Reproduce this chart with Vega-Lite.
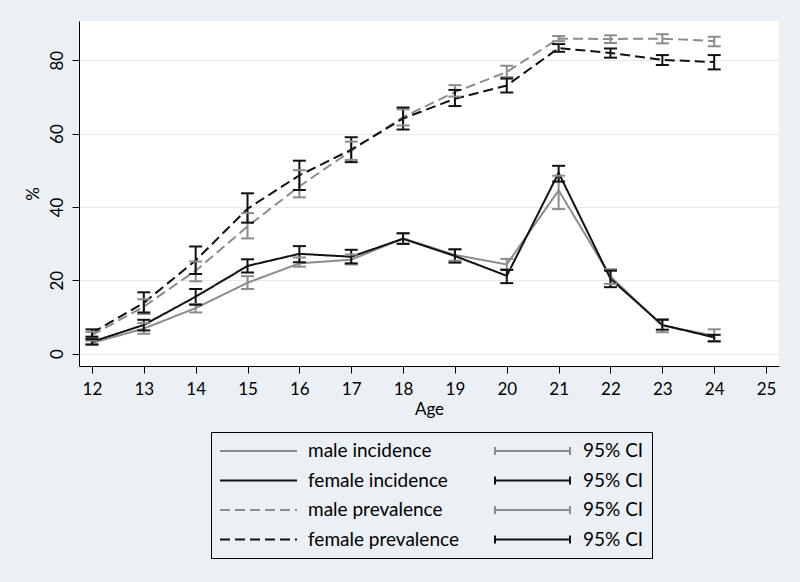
{
  "$schema": "https://vega.github.io/schema/vega-lite/v6.json",
  "width": 700,
  "height": 345,
  "autosize": "none",
  "padding": {"left": 79, "top": 21, "right": 21, "bottom": 216},
  "background": "#eaf0f3",
  "config": {
    "view": {"fill": "white", "stroke": null},
    "font": "Lato",
    "axis": {
      "domainColor": "black",
      "tickColor": "black",
      "labelColor": "black",
      "titleColor": "black",
      "labelFont": "Lato",
      "titleFont": "Lato",
      "labelFontSize": 17,
      "titleFontSize": 17,
      "titleFontWeight": "normal",
      "tickSize": 7,
      "domainWidth": 1,
      "tickWidth": 1
    }
  },
  "data": {
    "values": [
      {"age": 12, "series": "male incidence", "value": 2.9, "lo": 2.3, "hi": 3.5},
      {"age": 13, "series": "male incidence", "value": 6.8, "lo": 5.4, "hi": 8.3},
      {"age": 14, "series": "male incidence", "value": 12.4, "lo": 11.2, "hi": 13.5},
      {"age": 15, "series": "male incidence", "value": 19.3, "lo": 17.6, "hi": 21.1},
      {"age": 16, "series": "male incidence", "value": 24.6, "lo": 23.7, "hi": 26.2},
      {"age": 17, "series": "male incidence", "value": 25.6, "lo": 24.3, "hi": 27.0},
      {"age": 18, "series": "male incidence", "value": 31.4, "lo": 30.0, "hi": 32.8},
      {"age": 19, "series": "male incidence", "value": 26.9, "lo": 25.3, "hi": 28.5},
      {"age": 20, "series": "male incidence", "value": 24.3, "lo": 23.0, "hi": 25.8},
      {"age": 21, "series": "male incidence", "value": 44.5, "lo": 39.4, "hi": 48.5},
      {"age": 22, "series": "male incidence", "value": 21.0, "lo": 19.0, "hi": 23.0},
      {"age": 23, "series": "male incidence", "value": 7.6, "lo": 5.8, "hi": 9.4},
      {"age": 24, "series": "male incidence", "value": 4.9, "lo": 3.4, "hi": 6.6},
      {"age": 12, "series": "male prevalence", "value": 5.0, "lo": 4.2, "hi": 5.9},
      {"age": 13, "series": "male prevalence", "value": 12.8, "lo": 10.8, "hi": 14.8},
      {"age": 14, "series": "male prevalence", "value": 22.6, "lo": 19.7, "hi": 25.1},
      {"age": 15, "series": "male prevalence", "value": 34.7, "lo": 31.4, "hi": 38.3},
      {"age": 16, "series": "male prevalence", "value": 45.6, "lo": 42.6, "hi": 50.0},
      {"age": 17, "series": "male prevalence", "value": 55.3, "lo": 52.8, "hi": 57.8},
      {"age": 18, "series": "male prevalence", "value": 64.5, "lo": 62.2, "hi": 66.6},
      {"age": 19, "series": "male prevalence", "value": 71.3, "lo": 70.1, "hi": 73.2},
      {"age": 20, "series": "male prevalence", "value": 76.8, "lo": 75.4, "hi": 78.5},
      {"age": 21, "series": "male prevalence", "value": 85.9, "lo": 85.2, "hi": 86.6},
      {"age": 22, "series": "male prevalence", "value": 85.8, "lo": 84.7, "hi": 86.8},
      {"age": 23, "series": "male prevalence", "value": 85.9, "lo": 84.6, "hi": 87.1},
      {"age": 24, "series": "male prevalence", "value": 85.2, "lo": 83.8, "hi": 86.4},
      {"age": 12, "series": "female incidence", "value": 3.2, "lo": 2.5, "hi": 3.9},
      {"age": 13, "series": "female incidence", "value": 7.8, "lo": 6.3, "hi": 9.2},
      {"age": 14, "series": "female incidence", "value": 15.5, "lo": 13.3, "hi": 17.6},
      {"age": 15, "series": "female incidence", "value": 23.9, "lo": 22.1, "hi": 25.7},
      {"age": 16, "series": "female incidence", "value": 27.2, "lo": 24.9, "hi": 29.3},
      {"age": 17, "series": "female incidence", "value": 26.4, "lo": 24.6, "hi": 28.3},
      {"age": 18, "series": "female incidence", "value": 31.3, "lo": 29.9, "hi": 32.8},
      {"age": 19, "series": "female incidence", "value": 26.6, "lo": 24.8, "hi": 28.4},
      {"age": 20, "series": "female incidence", "value": 21.2, "lo": 19.2, "hi": 22.8},
      {"age": 21, "series": "female incidence", "value": 49.3, "lo": 46.9, "hi": 51.2},
      {"age": 22, "series": "female incidence", "value": 20.4, "lo": 18.1, "hi": 22.6},
      {"age": 23, "series": "female incidence", "value": 7.8, "lo": 6.5, "hi": 9.2},
      {"age": 24, "series": "female incidence", "value": 4.4, "lo": 3.3, "hi": 5.1},
      {"age": 12, "series": "female prevalence", "value": 5.6, "lo": 4.6, "hi": 6.6},
      {"age": 13, "series": "female prevalence", "value": 13.8, "lo": 11.2, "hi": 16.7},
      {"age": 14, "series": "female prevalence", "value": 25.4, "lo": 21.7, "hi": 29.2},
      {"age": 15, "series": "female prevalence", "value": 39.5, "lo": 35.7, "hi": 43.7},
      {"age": 16, "series": "female prevalence", "value": 48.6, "lo": 44.6, "hi": 52.6},
      {"age": 17, "series": "female prevalence", "value": 55.6, "lo": 52.2, "hi": 59.0},
      {"age": 18, "series": "female prevalence", "value": 64.1, "lo": 61.1, "hi": 67.1},
      {"age": 19, "series": "female prevalence", "value": 69.5, "lo": 67.5, "hi": 71.9},
      {"age": 20, "series": "female prevalence", "value": 73.1, "lo": 71.2, "hi": 75.0},
      {"age": 21, "series": "female prevalence", "value": 83.3, "lo": 82.3, "hi": 84.4},
      {"age": 22, "series": "female prevalence", "value": 82.0, "lo": 80.7, "hi": 83.2},
      {"age": 23, "series": "female prevalence", "value": 80.1, "lo": 78.7, "hi": 81.4},
      {"age": 24, "series": "female prevalence", "value": 79.5, "lo": 77.5, "hi": 81.4}
    ]
  },
  "encoding": {
    "x": {
      "field": "age",
      "type": "quantitative",
      "scale": {"domain": [11.75, 25.25], "nice": false, "zero": false},
      "axis": {
        "title": "Age",
        "values": [12, 13, 14, 15, 16, 17, 18, 19, 20, 21, 22, 23, 24, 25],
        "grid": false,
        "labelPadding": 8,
        "titlePadding": 4,
        "labelFlush": false,
        "labelOverlap": false
      }
    }
  },
  "layer": [
    {
      "mark": {"type": "line", "strokeWidth": 2},
      "encoding": {
        "y": {
          "field": "value",
          "type": "quantitative",
          "scale": {"domain": [-3.4, 90.7], "nice": false, "zero": false},
          "axis": {
            "title": "%",
            "values": [0, 20, 40, 60, 80],
            "grid": true,
            "gridColor": "#e6eaec",
            "gridWidth": 1,
            "labelAngle": -90,
            "labelAlign": "center",
            "labelBaseline": "bottom",
            "labelPadding": 6,
            "titlePadding": 6
          }
        },
        "color": {
          "field": "series",
          "type": "nominal",
          "scale": {
            "domain": ["male incidence", "female incidence", "male prevalence", "female prevalence", "male incidence CI", "female incidence CI", "male prevalence CI", "female prevalence CI"],
            "range": ["#8c8c8c", "#111111", "#8c8c8c", "#111111", "#8c8c8c", "#111111", "#8c8c8c", "#111111"]
          },
          "legend": {
            "title": null,
            "orient": "none",
            "legendX": 132,
            "legendY": 411,
            "columns": 2,
            "padding": 8,
            "strokeColor": "black",
            "symbolType": "stroke",
            "symbolSize": 400,
            "symbolStrokeWidth": 2,
            "symbolOffset": 0,
            "labelOffset": 67,
            "labelFont": "Lato",
            "labelFontSize": 19,
            "labelColor": "black",
            "labelLimit": 400,
            "rowPadding": 8.5,
            "columnPadding": 32,
            "labelExpr": "indexof(datum.value, 'CI') >= 0 ? '95% CI' : datum.value",
            "encode": {
              "symbols": {
                "update": {
                  "shape": {"signal": "indexof(datum.value, 'CI') >= 0 ? 'M-1,-0.4L-1,0.4M-1,0L6.5,0M6.5,-0.4L6.5,0.4' : 'M-1,0L6.7,0'"}
                }
              }
            }
          }
        },
        "strokeDash": {
          "field": "series",
          "type": "nominal",
          "scale": {
            "domain": ["male incidence", "female incidence", "male prevalence", "female prevalence", "male incidence CI", "female incidence CI", "male prevalence CI", "female prevalence CI"],
            "range": [[1, 0], [1, 0], [10, 5], [10, 5], [1, 0], [1, 0], [1, 0], [1, 0]]
          },
          "legend": {
            "title": null,
            "orient": "none",
            "legendX": 132,
            "legendY": 411,
            "columns": 2,
            "padding": 8,
            "strokeColor": "black",
            "symbolType": "stroke",
            "symbolSize": 400,
            "symbolStrokeWidth": 2,
            "symbolOffset": 0,
            "labelOffset": 67,
            "labelFont": "Lato",
            "labelFontSize": 19,
            "labelColor": "black",
            "labelLimit": 400,
            "rowPadding": 8.5,
            "columnPadding": 32,
            "labelExpr": "indexof(datum.value, 'CI') >= 0 ? '95% CI' : datum.value",
            "encode": {
              "symbols": {
                "update": {
                  "shape": {"signal": "indexof(datum.value, 'CI') >= 0 ? 'M-1,-0.4L-1,0.4M-1,0L6.5,0M6.5,-0.4L6.5,0.4' : 'M-1,0L6.7,0'"}
                }
              }
            }
          }
        }
      }
    },
    {
      "mark": {"type": "rule", "strokeWidth": 2},
      "encoding": {
        "y": {"field": "lo", "type": "quantitative"},
        "y2": {"field": "hi"},
        "color": {"field": "series", "type": "nominal"}
      }
    },
    {
      "transform": [{"fold": ["lo", "hi"], "as": ["bound", "bval"]}],
      "mark": {"type": "tick", "orient": "horizontal", "size": 13, "thickness": 2, "opacity": 1},
      "encoding": {
        "y": {"field": "bval", "type": "quantitative"},
        "color": {"field": "series", "type": "nominal"}
      }
    }
  ]
}
